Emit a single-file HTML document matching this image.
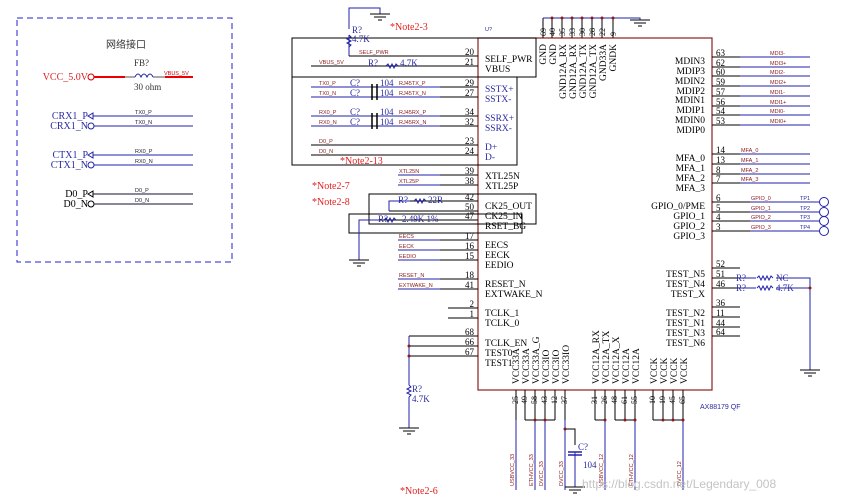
<!DOCTYPE html>
<html><head><meta charset="utf-8"><style>
html,body{margin:0;padding:0;background:#fff}
svg{display:block}
.s{font-family:"Liberation Serif",serif;font-size:9.5px;fill:#000}
.p{font-family:"Liberation Serif",serif;font-size:9px;fill:#000}
.n{font-family:"Liberation Sans",sans-serif;font-size:5.5px;fill:#8b1a1a}
.b{font-family:"Liberation Serif",serif;font-size:9px;fill:#2a2aa0}
.r{font-family:"Liberation Serif",serif;font-size:10px;fill:#e02020}
.w{stroke:#2222aa;stroke-width:1;fill:none}
.k{stroke:#000;stroke-width:1;fill:none}
.g{stroke:#555;stroke-width:1;fill:none}
</style></head><body>
<svg width="844" height="501" viewBox="0 0 844 501" xmlns="http://www.w3.org/2000/svg">
<rect x="17" y="18" width="215" height="244" fill="none" stroke="#2222cc" stroke-dasharray="6,4"/>
<text x="106" y="48" style="font-family:'Liberation Sans','Noto Sans CJK SC',sans-serif;font-size:10px;fill:#333">网络接口</text>
<text x="88" y="80" text-anchor="end" class="r">VCC_5.0V</text>
<circle cx="91" cy="77" r="3" fill="none" stroke="#c00"/>
<line x1="94" y1="77" x2="125" y2="77" stroke="#e00" stroke-width="2"/>
<line x1="125" y1="77" x2="135" y2="77" stroke="#555"/>
<path d="M135 77 q3 -6 6 0 q3 -6 6 0 q3 -6 6 0" class="w"/>
<line x1="153" y1="77" x2="165" y2="77" stroke="#555"/>
<line x1="165" y1="77" x2="193" y2="77" stroke="#e00" stroke-width="2"/>
<text x="134" y="66" class="b" style="fill:#333">FB?</text>
<text x="134" y="90" class="p" style="fill:#333">30 ohm</text>
<text x="164" y="75" class="n" style="fill:#c00">VBUS_5V</text>
<g class="b" style="font-size:10px">
<text x="88" y="119" text-anchor="end">CRX1_P</text><text x="88" y="129" text-anchor="end">CRX1_N</text>
<text x="88" y="158" text-anchor="end">CTX1_P</text><text x="88" y="168" text-anchor="end">CTX1_N</text>
<text x="88" y="197" text-anchor="end" style="fill:#000">D0_P</text><text x="88" y="207" text-anchor="end" style="fill:#000">D0_N</text>
</g>
<g class="w">
<path d="M88 116 l5 -3 v6 z"/><line x1="93" y1="116" x2="193" y2="116"/>
<circle cx="91" cy="126" r="3"/><line x1="94" y1="126" x2="193" y2="126"/>
<path d="M88 155 l5 -3 v6 z"/><line x1="93" y1="155" x2="193" y2="155"/>
<circle cx="91" cy="165" r="3"/><line x1="94" y1="165" x2="193" y2="165"/>
<path d="M88 194 l5 -3 v6 z" stroke="#000"/><line x1="93" y1="194" x2="193" y2="194" stroke="#113"/>
<circle cx="91" cy="204" r="3" stroke="#000"/><line x1="94" y1="204" x2="193" y2="204" stroke="#113"/>
</g>
<g class="n" style="fill:#223">
<text x="135" y="114">TX0_P</text><text x="135" y="124">TX0_N</text>
<text x="135" y="153">RX0_P</text><text x="135" y="163">RX0_N</text>
<text x="135" y="192">D0_P</text><text x="135" y="202">D0_N</text>
</g>

<rect x="478" y="38" width="234" height="352" fill="none" stroke="#8b2020" stroke-width="1.2"/>
<text x="485" y="31" class="n" style="fill:#2a2aa0">U?</text>
<rect x="292" y="38" width="244" height="39" class="k"/>
<rect x="292" y="77" width="225" height="88" class="k"/>
<rect x="369" y="194" width="167" height="30" class="k"/>
<rect x="349" y="214" width="173" height="19" class="k"/>

<path d="M349 56 V35 M349 35 l2 2 l-4 2 l4 2 l-4 2 l4 2 l-2 2 M349 29 V8 H380 V14" class="w"/>
<path d="M370 14 h20 M374 17 h12 M378 20 h4" class="k"/>
<text x="352" y="33" class="b">R?</text><text x="352" y="42" class="b">4.7K</text>
<text x="390" y="30" class="r">*Note2-3</text>
<line x1="349" y1="56" x2="478" y2="56" class="k"/>
<text x="359" y="54" class="n">SELF_PWR</text>
<line x1="311" y1="66" x2="478" y2="66" class="k"/>
<text x="319" y="64" class="n">VBUS_5V</text>
<text x="368" y="66" class="b">R?</text>
<path d="M386 66 l2 -2 l2 4 l2 -4 l2 4 l2 -4 l2 2" class="w"/>
<text x="400" y="66" class="b">4.7K</text>

<g class="k">
<line x1="311" y1="87" x2="478" y2="87"/><line x1="311" y1="97" x2="478" y2="97"/>
<line x1="311" y1="116" x2="478" y2="116"/><line x1="311" y1="126" x2="478" y2="126"/>
<line x1="311" y1="145" x2="478" y2="145"/><line x1="311" y1="155" x2="478" y2="155"/>
<line x1="398" y1="175" x2="478" y2="175"/><line x1="398" y1="185" x2="478" y2="185"/>
<line x1="398" y1="201" x2="478" y2="201"/><line x1="389" y1="211" x2="478" y2="211"/><line x1="359" y1="220" x2="478" y2="220"/>
<line x1="398" y1="240" x2="478" y2="240"/><line x1="398" y1="250" x2="478" y2="250"/><line x1="398" y1="260" x2="478" y2="260"/>
<line x1="398" y1="279" x2="478" y2="279"/><line x1="398" y1="289" x2="478" y2="289"/>
<line x1="448" y1="308" x2="478" y2="308"/><line x1="448" y1="318" x2="478" y2="318"/>
<line x1="409" y1="336" x2="478" y2="336"/><line x1="409" y1="346" x2="478" y2="346"/><line x1="409" y1="356" x2="478" y2="356"/>
</g>
<g class="w">
<line x1="311" y1="87" x2="372" y2="87"/><line x1="311" y1="97" x2="372" y2="97"/>
<line x1="311" y1="116" x2="372" y2="116"/><line x1="311" y1="126" x2="372" y2="126"/>
<line x1="377" y1="87" x2="440" y2="87"/><line x1="377" y1="97" x2="440" y2="97"/>
<line x1="377" y1="116" x2="440" y2="116"/><line x1="377" y1="126" x2="440" y2="126"/>
<line x1="398" y1="175" x2="440" y2="175"/><line x1="398" y1="185" x2="440" y2="185"/>
<line x1="398" y1="240" x2="440" y2="240"/><line x1="398" y1="250" x2="440" y2="250"/><line x1="398" y1="260" x2="440" y2="260"/>
<line x1="398" y1="279" x2="440" y2="279"/><line x1="398" y1="289" x2="440" y2="289"/>
<path d="M389 211 V201 H410"/><path d="M359 260 V220 H380"/>
<path d="M409 336 V385 M409 385 l2 2 l-4 2 l4 2 l-4 2 l4 2 l-2 2 M409 397 V428"/>
</g>
<path d="M372 84 v16 M377 84 v16 M372 113 v16 M377 113 v16" stroke="#000" stroke-width="1.5"/>
<path d="M414 201 l2 -2 l2 4 l2 -4 l2 4 l2 -4 l2 2 M384 220 l2 -2 l2 4 l2 -4 l2 4 l2 -4 l2 2" class="w"/>
<path d="M349 260 h20 M353 263 h12 M357 266 h4 M399 428 h20 M403 431 h12 M407 434 h4" class="k"/>
<circle cx="409" cy="346" r="1.5" fill="#8b1a1a"/><circle cx="409" cy="356" r="1.5" fill="#8b1a1a"/>
<text x="412" y="392" class="b">R?</text><text x="412" y="402" class="b">4.7K</text>
<g class="b">
<text x="350" y="86">C?</text><text x="350" y="96">C?</text><text x="350" y="115">C?</text><text x="350" y="125">C?</text>
<text x="380" y="86">104</text><text x="380" y="96">104</text><text x="380" y="115">104</text><text x="380" y="125">104</text>
<text x="398" y="203">R?</text><text x="428" y="203">22R</text>
<text x="378" y="222">R?</text><text x="402" y="222">2.49K 1%</text>
</g>
<g class="n">
<text x="319" y="85">TX0_P</text><text x="319" y="95">TX0_N</text><text x="319" y="114">RX0_P</text><text x="319" y="124">RX0_N</text>
<text x="399" y="85">RJ45TX_P</text><text x="399" y="95">RJ45TX_N</text><text x="399" y="114">RJ45RX_P</text><text x="399" y="124">RJ45RX_N</text>
<text x="319" y="143">D0_P</text><text x="319" y="153">D0_N</text>
<text x="399" y="173">XTL25N</text><text x="399" y="183">XTL25P</text>
<text x="399" y="238">EECS</text><text x="399" y="248">EECK</text><text x="399" y="258">EEDIO</text>
<text x="399" y="277">RESET_N</text><text x="399" y="287">EXTWAKE_N</text>
</g>
<text x="340" y="164" class="r">*Note2-13</text>
<text x="312" y="189" class="r">*Note2-7</text>
<text x="312" y="205" class="r">*Note2-8</text>
<text x="400" y="494" class="r">*Note2-6</text>

<g class="p" text-anchor="end">
<text x="474" y="55">20</text><text x="474" y="65">21</text><text x="474" y="86">29</text><text x="474" y="96">27</text>
<text x="474" y="115">34</text><text x="474" y="125">32</text><text x="474" y="144">23</text><text x="474" y="154">24</text>
<text x="474" y="174">39</text><text x="474" y="184">38</text><text x="474" y="200">42</text><text x="474" y="210">50</text><text x="474" y="219">47</text>
<text x="474" y="239">17</text><text x="474" y="249">16</text><text x="474" y="259">15</text><text x="474" y="278">18</text><text x="474" y="288">41</text>
<text x="474" y="307">2</text><text x="474" y="317">1</text><text x="474" y="335">68</text><text x="474" y="345">66</text><text x="474" y="355">67</text>
</g>
<g class="s">
<text x="485" y="62">SELF_PWR</text><text x="485" y="72">VBUS</text>
<text x="485" y="92" style="fill:#2a2aa0">SSTX+</text><text x="485" y="102" style="fill:#2a2aa0">SSTX-</text>
<text x="485" y="121" style="fill:#2a2aa0">SSRX+</text><text x="485" y="131" style="fill:#2a2aa0">SSRX-</text>
<text x="485" y="150" style="fill:#2a2aa0">D+</text><text x="485" y="160" style="fill:#2a2aa0">D-</text>
<text x="485" y="179">XTL25N</text><text x="485" y="189">XTL25P</text>
<text x="485" y="209">CK25_OUT</text><text x="485" y="219">CK25_IN</text><text x="485" y="229">RSET_BG</text>
<text x="485" y="248">EECS</text><text x="485" y="258">EECK</text><text x="485" y="268">EEDIO</text>
<text x="485" y="287">RESET_N</text><text x="485" y="297">EXTWAKE_N</text>
<text x="485" y="316">TCLK_1</text><text x="485" y="326">TCLK_0</text>
<text x="485" y="346">TCLK_EN</text><text x="485" y="356">TEST0</text><text x="485" y="366">TEST1</text>
</g>

<g class="k">
<line x1="543" y1="18" x2="543" y2="38"/><line x1="552" y1="18" x2="552" y2="38"/><line x1="562" y1="18" x2="562" y2="38"/><line x1="572" y1="18" x2="572" y2="38"/>
<line x1="582" y1="18" x2="582" y2="38"/><line x1="592" y1="18" x2="592" y2="38"/><line x1="602" y1="18" x2="602" y2="38"/><line x1="613" y1="18" x2="613" y2="38"/>
</g>
<path d="M543 18 H640 V20" class="w"/>
<path d="M630 20 h20 M634 23 h12 M638 26 h4" class="k"/>
<g fill="#8b1a1a"><circle cx="552" cy="18" r="1.5"/><circle cx="562" cy="18" r="1.5"/><circle cx="572" cy="18" r="1.5"/><circle cx="582" cy="18" r="1.5"/><circle cx="592" cy="18" r="1.5"/><circle cx="602" cy="18" r="1.5"/><circle cx="613" cy="18" r="1.5"/></g>
<g class="p" style="font-size:8px">
<text transform="translate(546,36) rotate(-90)">69</text><text transform="translate(555,36) rotate(-90)">40</text><text transform="translate(565,36) rotate(-90)">35</text><text transform="translate(575,36) rotate(-90)">33</text>
<text transform="translate(585,36) rotate(-90)">30</text><text transform="translate(595,36) rotate(-90)">28</text><text transform="translate(605,36) rotate(-90)">22</text><text transform="translate(616,36) rotate(-90)">9</text>
</g>
<g class="s">
<text transform="translate(546,44) rotate(-90)" text-anchor="end">GND</text><text transform="translate(556,44) rotate(-90)" text-anchor="end">GND</text>
<text transform="translate(566,44) rotate(-90)" text-anchor="end">GND12A_RX</text><text transform="translate(576,44) rotate(-90)" text-anchor="end">GND12A_RX</text>
<text transform="translate(586,44) rotate(-90)" text-anchor="end">GND12A_TX</text><text transform="translate(596,44) rotate(-90)" text-anchor="end">GND12A_TX</text>
<text transform="translate(606,44) rotate(-90)" text-anchor="end">GND33A</text><text transform="translate(616,44) rotate(-90)" text-anchor="end">GNDK</text>
</g>

<g class="k">
<line x1="712" y1="57" x2="810" y2="57"/><line x1="712" y1="67" x2="810" y2="67"/><line x1="712" y1="76" x2="810" y2="76"/><line x1="712" y1="86" x2="810" y2="86"/>
<line x1="712" y1="96" x2="810" y2="96"/><line x1="712" y1="106" x2="810" y2="106"/><line x1="712" y1="115" x2="810" y2="115"/><line x1="712" y1="125" x2="810" y2="125"/>
<line x1="712" y1="154" x2="810" y2="154"/><line x1="712" y1="164" x2="810" y2="164"/><line x1="712" y1="174" x2="810" y2="174"/><line x1="712" y1="183" x2="810" y2="183"/>
<line x1="712" y1="202" x2="820" y2="202"/><line x1="712" y1="212" x2="820" y2="212"/><line x1="712" y1="221" x2="820" y2="221"/><line x1="712" y1="231" x2="820" y2="231"/>
<line x1="712" y1="268" x2="740" y2="268"/><line x1="712" y1="278" x2="740" y2="278"/><line x1="712" y1="288" x2="740" y2="288"/>
<line x1="712" y1="307" x2="740" y2="307"/><line x1="712" y1="317" x2="740" y2="317"/><line x1="712" y1="327" x2="740" y2="327"/><line x1="712" y1="336" x2="740" y2="336"/>
</g>
<g class="w">
<line x1="740" y1="57" x2="810" y2="57"/><line x1="740" y1="67" x2="810" y2="67"/><line x1="740" y1="76" x2="810" y2="76"/><line x1="740" y1="86" x2="810" y2="86"/>
<line x1="740" y1="96" x2="810" y2="96"/><line x1="740" y1="106" x2="810" y2="106"/><line x1="740" y1="115" x2="810" y2="115"/><line x1="740" y1="125" x2="810" y2="125"/>
<line x1="740" y1="154" x2="810" y2="154"/><line x1="740" y1="164" x2="810" y2="164"/><line x1="740" y1="174" x2="810" y2="174"/><line x1="740" y1="183" x2="810" y2="183"/>
<line x1="750" y1="202" x2="820" y2="202"/><line x1="750" y1="212" x2="820" y2="212"/><line x1="750" y1="221" x2="820" y2="221"/><line x1="750" y1="231" x2="820" y2="231"/>
<path d="M740 278 H756 M776 278 H810 V370 M740 288 H756 M776 288 H810"/>
<path d="M757 278 l2 -2 l2 4 l2 -4 l2 4 l2 -4 l2 4 l2 -4 l2 2 M757 288 l2 -2 l2 4 l2 -4 l2 4 l2 -4 l2 4 l2 -4 l2 2"/>
<circle cx="824" cy="202" r="4.5"/><circle cx="824" cy="212" r="4.5"/><circle cx="824" cy="221" r="4.5"/><circle cx="824" cy="231" r="4.5"/>
</g>
<circle cx="810" cy="288" r="1.5" fill="#8b1a1a"/>
<path d="M800 370 h20 M804 373 h12 M808 376 h4" class="k"/>
<g class="b"><text x="736" y="281">R?</text><text x="736" y="291">R?</text><text x="776" y="281">NC</text><text x="776" y="291">4.7K</text></g>
<g class="n">
<text x="770" y="55">MDI3-</text><text x="770" y="65">MDI3+</text><text x="770" y="74">MDI2-</text><text x="770" y="84">MDI2+</text>
<text x="770" y="94">MDI1-</text><text x="770" y="104">MDI1+</text><text x="770" y="113">MDI0-</text><text x="770" y="123">MDI0+</text>
<text x="741" y="152">MFA_0</text><text x="741" y="162">MFA_1</text><text x="741" y="172">MFA_2</text><text x="741" y="181">MFA_3</text>
<text x="751" y="200">GPIO_0</text><text x="751" y="210">GPIO_1</text><text x="751" y="219">GPIO_2</text><text x="751" y="229">GPIO_3</text>
</g>
<g class="n" style="fill:#2a2aa0"><text x="800" y="200">TP1</text><text x="800" y="210">TP2</text><text x="800" y="219">TP3</text><text x="800" y="229">TP4</text></g>
<g class="p">
<text x="716" y="56">63</text><text x="716" y="66">62</text><text x="716" y="75">60</text><text x="716" y="85">59</text>
<text x="716" y="95">57</text><text x="716" y="105">56</text><text x="716" y="114">54</text><text x="716" y="124">53</text>
<text x="716" y="153">14</text><text x="716" y="163">13</text><text x="716" y="173">8</text><text x="716" y="182">7</text>
<text x="716" y="201">6</text><text x="716" y="211">5</text><text x="716" y="220">4</text><text x="716" y="230">3</text>
<text x="716" y="267">52</text><text x="716" y="277">51</text><text x="716" y="287">46</text>
<text x="716" y="306">36</text><text x="716" y="316">11</text><text x="716" y="326">44</text><text x="716" y="335">64</text>
</g>
<g class="s" text-anchor="end">
<text x="705" y="64">MDIN3</text><text x="705" y="74">MDIP3</text><text x="705" y="84">MDIN2</text><text x="705" y="94">MDIP2</text>
<text x="705" y="103">MDIN1</text><text x="705" y="113">MDIP1</text><text x="705" y="123">MDIN0</text><text x="705" y="133">MDIP0</text>
<text x="705" y="161">MFA_0</text><text x="705" y="171">MFA_1</text><text x="705" y="181">MFA_2</text><text x="705" y="191">MFA_3</text>
<text x="705" y="209">GPIO_0/PME</text><text x="705" y="219">GPIO_1</text><text x="705" y="229">GPIO_2</text><text x="705" y="239">GPIO_3</text>
<text x="705" y="277">TEST_N5</text><text x="705" y="287">TEST_N4</text><text x="705" y="297">TEST_X</text>
<text x="705" y="316">TEST_N2</text><text x="705" y="326">TEST_N1</text><text x="705" y="336">TEST_N3</text><text x="705" y="346">TEST_N6</text>
</g>
<text x="700" y="409" class="n" style="fill:#2a2aa0;font-size:7px">AX88179 QF</text>

<g class="k">
<line x1="516" y1="390" x2="516" y2="420"/><line x1="525" y1="390" x2="525" y2="420"/><line x1="535" y1="390" x2="535" y2="420"/><line x1="545" y1="390" x2="545" y2="420"/><line x1="555" y1="390" x2="555" y2="420"/><line x1="565" y1="390" x2="565" y2="420"/>
<line x1="595" y1="390" x2="595" y2="420"/><line x1="605" y1="390" x2="605" y2="420"/><line x1="615" y1="390" x2="615" y2="420"/><line x1="625" y1="390" x2="625" y2="420"/><line x1="635" y1="390" x2="635" y2="420"/>
<line x1="653" y1="390" x2="653" y2="420"/><line x1="663" y1="390" x2="663" y2="420"/><line x1="673" y1="390" x2="673" y2="420"/><line x1="683" y1="390" x2="683" y2="420"/>
<path d="M525 420 H545 M555 420 H545 M595 420 H605 M615 420 H635 M653 420 H683 M565 429 H575 V445"/>
</g>
<g class="w">
<line x1="516" y1="420" x2="516" y2="490"/><line x1="535" y1="420" x2="535" y2="490"/><line x1="545" y1="420" x2="545" y2="490"/><line x1="565" y1="420" x2="565" y2="490"/>
<line x1="605" y1="420" x2="605" y2="490"/><line x1="635" y1="420" x2="635" y2="490"/><line x1="683" y1="420" x2="683" y2="490"/>
<path d="M575 452 V487"/>
</g>
<path d="M568 452 h14 M568 455 h14" stroke="#2222aa" stroke-width="1.5"/>
<path d="M565 487 h20 M569 490 h12 M573 493 h4" class="k"/>
<text x="578" y="450" class="b">C?</text><text x="583" y="468" class="b">104</text>
<g fill="#8b1a1a"><circle cx="535" cy="420" r="1.5"/><circle cx="545" cy="420" r="1.5"/><circle cx="565" cy="429" r="1.5"/><circle cx="605" cy="420" r="1.5"/><circle cx="625" cy="420" r="1.5"/><circle cx="635" cy="420" r="1.5"/><circle cx="663" cy="420" r="1.5"/><circle cx="673" cy="420" r="1.5"/><circle cx="683" cy="420" r="1.5"/></g>
<g class="p" style="font-size:8px">
<text transform="translate(518,404) rotate(-90)">25</text><text transform="translate(527,404) rotate(-90)">49</text><text transform="translate(537,404) rotate(-90)">58</text><text transform="translate(547,404) rotate(-90)">43</text><text transform="translate(557,404) rotate(-90)">12</text><text transform="translate(567,404) rotate(-90)">37</text>
<text transform="translate(597,404) rotate(-90)">31</text><text transform="translate(607,404) rotate(-90)">26</text><text transform="translate(617,404) rotate(-90)">48</text><text transform="translate(627,404) rotate(-90)">61</text><text transform="translate(637,404) rotate(-90)">55</text>
<text transform="translate(655,404) rotate(-90)">10</text><text transform="translate(665,404) rotate(-90)">19</text><text transform="translate(675,404) rotate(-90)">45</text><text transform="translate(685,404) rotate(-90)">65</text>
</g>
<g class="s">
<text transform="translate(519,384) rotate(-90)">VCC33A</text><text transform="translate(529,384) rotate(-90)">VCC33A</text><text transform="translate(539,384) rotate(-90)">VCC33A_G</text>
<text transform="translate(549,384) rotate(-90)">VCC3IO</text><text transform="translate(559,384) rotate(-90)">VCC3IO</text><text transform="translate(569,384) rotate(-90)">VCC33IO</text>
<text transform="translate(599,384) rotate(-90)">VCC12A_RX</text><text transform="translate(609,384) rotate(-90)">VCC12A_TX</text><text transform="translate(619,384) rotate(-90)">VCC12A_X</text>
<text transform="translate(629,384) rotate(-90)">VCC12A</text><text transform="translate(639,384) rotate(-90)">VCC12A</text>
<text transform="translate(657,384) rotate(-90)">VCCK</text><text transform="translate(667,384) rotate(-90)">VCCK</text><text transform="translate(677,384) rotate(-90)">VCCK</text><text transform="translate(687,384) rotate(-90)">VCCK</text>
</g>
<g class="n">
<text transform="translate(514,486) rotate(-90)">USBVCC_33</text><text transform="translate(533,486) rotate(-90)">ETHVCC_33</text>
<text transform="translate(543,486) rotate(-90)">DVCC_33</text><text transform="translate(563,486) rotate(-90)">DVCC_33</text>
<text transform="translate(603,486) rotate(-90)">USBVCC_12</text><text transform="translate(633,486) rotate(-90)">ETHVCC_12</text>
<text transform="translate(681,486) rotate(-90)">DVCC_12</text>
</g>
<text x="582" y="488" style="font-family:'Liberation Sans',sans-serif;font-size:12px;fill:#c4c4c4">https://blog.csdn.net/Legendary_008</text>
</svg>
</body></html>
